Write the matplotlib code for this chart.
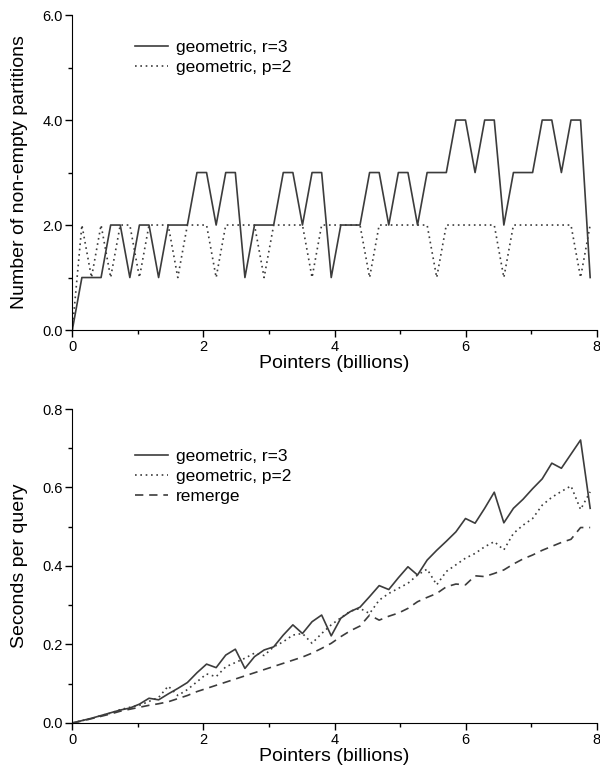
import numpy as np
import matplotlib
matplotlib.use("Agg")
import matplotlib.pyplot as plt
from matplotlib.ticker import MultipleLocator, FormatStrFormatter

plt.rcParams['font.family'] = ['Liberation Sans', 'DejaVu Sans']

# measurement points (billions of pointers)
pointers = np.arange(55) * 0.1463

# top panel: number of non-empty partitions
parts_r3 = [0, 1, 1, 1, 2, 2, 1, 2, 2, 1, 2, 2, 2, 3, 3, 2, 3, 3, 1, 2,
            2, 2, 3, 3, 2, 3, 3, 1, 2, 2, 2, 3, 3, 2, 3, 3, 2, 3, 3, 3,
            4, 4, 3, 4, 4, 2, 3, 3, 3, 4, 4, 3, 4, 4, 1]
parts_p2 = [0, 2, 1, 2, 1, 2, 2, 1, 2, 2, 2, 1, 2, 2, 2, 1, 2, 2, 2, 2,
            1, 2, 2, 2, 2, 1, 2, 2, 2, 2, 2, 1, 2, 2, 2, 2, 2, 2, 1, 2,
            2, 2, 2, 2, 2, 1, 2, 2, 2, 2, 2, 2, 2, 1, 2]

# bottom panel: seconds per query
secs_r3 = [0.0, 0.006, 0.012, 0.019, 0.026, 0.033, 0.038, 0.048, 0.063, 0.059,
           0.074, 0.088, 0.103, 0.128, 0.150, 0.141, 0.173, 0.188, 0.139, 0.169,
           0.186, 0.194, 0.224, 0.250, 0.228, 0.258, 0.275, 0.222, 0.267, 0.284,
           0.295, 0.322, 0.350, 0.340, 0.370, 0.398, 0.377, 0.415, 0.440, 0.463,
           0.487, 0.521, 0.509, 0.547, 0.588, 0.510, 0.547, 0.570, 0.597, 0.622,
           0.662, 0.649, 0.685, 0.721, 0.547]
secs_p2 = [0.0, 0.006, 0.011, 0.019, 0.025, 0.034, 0.040, 0.045, 0.055, 0.065,
           0.094, 0.070, 0.085, 0.105, 0.125, 0.118, 0.143, 0.154, 0.165, 0.178,
           0.172, 0.194, 0.207, 0.224, 0.228, 0.203, 0.228, 0.250, 0.268, 0.285,
           0.292, 0.279, 0.313, 0.330, 0.343, 0.356, 0.377, 0.392, 0.352, 0.386,
           0.403, 0.420, 0.432, 0.449, 0.462, 0.441, 0.483, 0.504, 0.521, 0.555,
           0.575, 0.590, 0.604, 0.544, 0.589]
secs_remerge = [0.0, 0.005, 0.011, 0.017, 0.023, 0.030, 0.035, 0.040, 0.045, 0.049,
                0.054, 0.062, 0.070, 0.080, 0.088, 0.096, 0.104, 0.112, 0.120, 0.128,
                0.136, 0.144, 0.152, 0.160, 0.168, 0.178, 0.190, 0.203, 0.220, 0.235,
                0.247, 0.275, 0.262, 0.272, 0.280, 0.292, 0.309, 0.320, 0.330, 0.347,
                0.354, 0.352, 0.375, 0.373, 0.381, 0.390, 0.405, 0.418, 0.428, 0.440,
                0.450, 0.460, 0.468, 0.498, 0.498]

LINE = '#3c3c3c'
DOT = (0, (1, 2.2))
DASH = (0, (5, 3.5))
LW = 1.2


def style_axes(ax, ymax, ymajor, yminor):
    ax.spines['top'].set_visible(False)
    ax.spines['right'].set_visible(False)
    ax.set_xlim(0, 8)
    ax.set_ylim(0, ymax)
    ax.xaxis.set_major_locator(MultipleLocator(2))
    ax.xaxis.set_minor_locator(MultipleLocator(1))
    ax.yaxis.set_major_locator(MultipleLocator(ymajor))
    ax.yaxis.set_minor_locator(MultipleLocator(yminor))
    ax.yaxis.set_major_formatter(FormatStrFormatter('%.1f'))
    ax.tick_params(which='major', direction='out', length=5, width=1,
                   labelsize=10.5, pad=2)
    ax.tick_params(which='minor', direction='out', length=3, width=1)
    ax.set_xlabel('Pointers (billions)', fontsize=14, labelpad=1)
    ax.yaxis.set_label_coords(-0.084, 0.5)


fig = plt.figure(figsize=(6.0, 7.72), dpi=100)
ax1 = fig.add_axes([0.1205, 0.5725, 0.874, 0.408])
ax2 = fig.add_axes([0.1205, 0.0635, 0.874, 0.4067])

legend_kw = dict(loc='upper left', frameon=False, fontsize=12.5,
                 handlelength=1.9, handletextpad=0.45, labelspacing=0.28,
                 borderpad=0, borderaxespad=0)

ax1.plot(pointers, parts_r3, color=LINE, lw=LW, ls='-', label='geometric, r=3')
ax1.plot(pointers, parts_p2, color=LINE, lw=LW, ls=DOT, label='geometric, p=2')
style_axes(ax1, 6.0, 2.0, 1.0)
ax1.set_ylabel('Number of non-empty partitions', fontsize=14)
ax1.legend(bbox_to_anchor=(0.12, 0.92), **legend_kw)

ax2.plot(pointers, secs_r3, color=LINE, lw=LW, ls='-', label='geometric, r=3')
ax2.plot(pointers, secs_p2, color=LINE, lw=LW, ls=DOT, label='geometric, p=2')
ax2.plot(pointers, secs_remerge, color=LINE, lw=LW, ls=DASH, label='remerge')
style_axes(ax2, 0.8, 0.2, 0.1)
ax2.set_ylabel('Seconds per query', fontsize=14)
ax2.legend(bbox_to_anchor=(0.12, 0.872), **legend_kw)

fig.savefig('out.png', dpi=100)
